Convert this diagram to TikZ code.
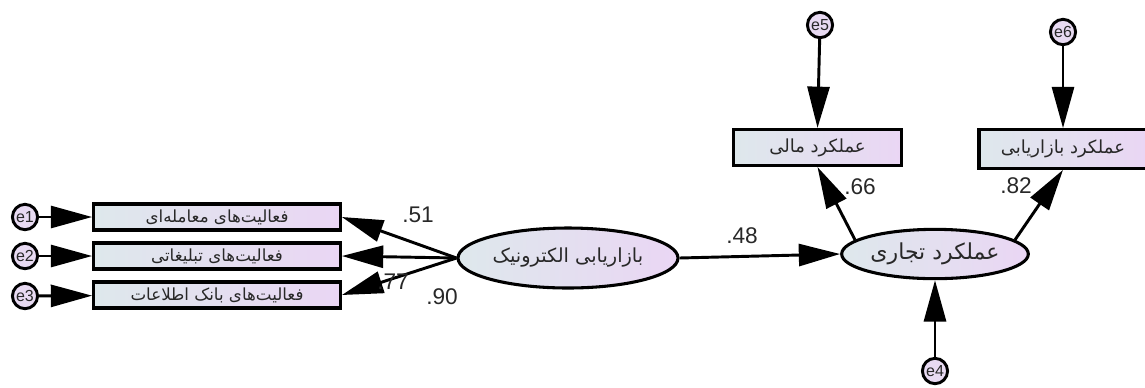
\documentclass[tikz,border=0pt]{standalone}
\usepackage{fontspec}
\setmainfont{Liberation Sans}
\newfontfamily\arabicfont[Script=Arabic]{DejaVu Sans}
\TeXXeTstate=1
\usetikzlibrary{arrows.meta,shapes.geometric}
\definecolor{cL}{RGB}{222,232,236}
\definecolor{cR}{RGB}{234,214,244}
\definecolor{cE}{RGB}{232,218,242}
\definecolor{txt}{RGB}{40,40,40}
\begin{document}
\begin{tikzpicture}[x=0.75pt,y=-0.75pt,
  grad/.style={left color=cL, right color=cR},
  obs/.style={draw, line width=2.3pt, grad, inner sep=0pt, text=txt},
  obsL/.style={obs, minimum width=185pt, minimum height=19.5pt,
    font=\arabicfont\fontsize{12.5}{14}\selectfont},
  obsT/.style={obs, minimum width=126pt, minimum height=27pt,
    font=\arabicfont\fontsize{13.5}{15}\selectfont},
  lat/.style={ellipse, draw, line width=2.3pt, grad, inner sep=0pt, text=txt},
  err/.style={ellipse, draw, line width=2.2pt, fill=cE, inner sep=0pt,
    minimum width=17.5pt, minimum height=19pt, text=txt,
    font=\fontsize{12}{12}\selectfont},
  path/.style={line width=2.2pt, -{Triangle[length=31pt,width=16.5pt]}},
  coef/.style={font=\fontsize{17}{18}\selectfont, inner sep=0pt, text=txt}
]
\useasboundingbox (0,0) rectangle (1145,387);
% observed, left
\node[obsL] (o1) at (217,217) {\beginR فعالیت‌های معامله‌ای\endR};
\node[obsL] (o2) at (217,256) {\beginR فعالیت‌های تبلیغاتی\endR};
\node[obsL] (o3) at (217,295) {\beginR فعالیت‌های بانک اطلاعات\endR};
% errors
\node[err] (e1) at (25,217) {e1};
\node[err] (e2) at (25,256) {e2};
\node[err] (e3) at (25,296) {e3};
\node[err] (e5) at (820,25) {e5};
\node[err] (e6) at (1063,32) {e6};
\node[err] (e4) at (935,371) {e4};
% latent
\node[lat, minimum width=165pt, minimum height=45pt,
  font=\arabicfont\fontsize{14.5}{16}\selectfont] (L) at (568,258) {\beginR بازاریابی الکترونیک\endR};
\node[lat, minimum width=140pt, minimum height=37pt,
  font=\arabicfont\fontsize{16.5}{18}\selectfont] (R) at (935,254) {\beginR عملکرد تجاری\endR};
% observed, top
\node[obsT] (M) at (817.5,147.5) {\beginR عملکرد مالی\endR};
\node[obsT, minimum height=29pt] (B) at (1063,149) {\beginR عملکرد بازاریابی\endR};
% paths
\draw[path] (e1) -- (o1);
\draw[path] (e2) -- (o2);
\draw[path] (e3) -- (o3);
\draw[path] (L.west) -- (o1.east);
\draw[path] (L.west) -- (o2.east);
\draw[path] (L.west) -- (o3.east);
\draw[path] (L.east) -- (R.west);
\draw[path] (R.170) -- (M.south);
\draw[path] (R.10) -- (B.south);
\draw[path] (e5) -- (M.north);
\draw[path] (e6) -- (B.north);
\draw[path] (e4) -- (R);
% coefficients
\node[coef] (c51) at (418,215) {.51};
\node[coef] (c77) at (393,282) {.77};
\node[coef] (c90) at (442,297) {.90};
\node[coef] (c48) at (742,236) {.48};
\node[coef] (c66) at (860,187) {.66};
\node[coef] (c82) at (1016,186) {.82};
\end{tikzpicture}
\end{document}
